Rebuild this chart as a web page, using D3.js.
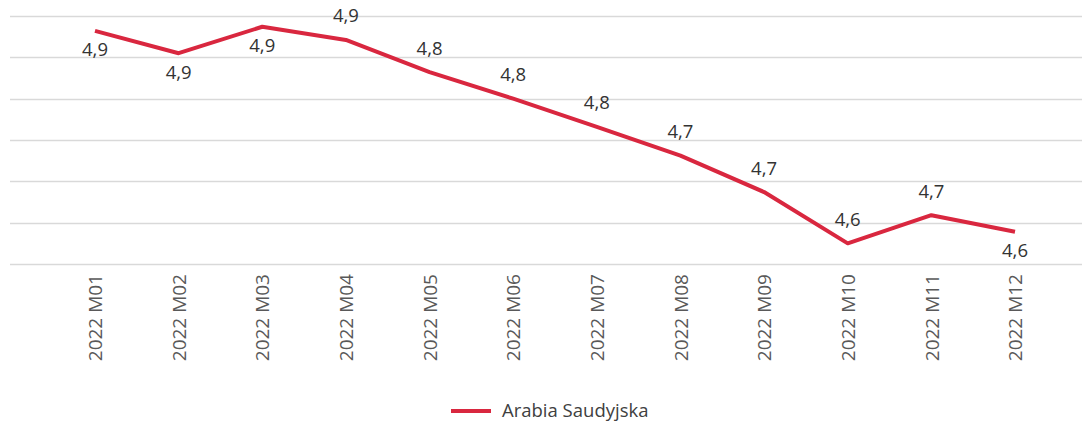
<!DOCTYPE html>
<html>
<head>
<meta charset="utf-8">
<script src="https://cdn.jsdelivr.net/npm/d3@7"></script>
<style>
  html, body { margin: 0; padding: 0; background: #ffffff; }
  svg { display: block; font-family: "Open Sans", "Noto Sans", sans-serif; }
</style>
</head>
<body>
<svg id="chart" width="1083" height="424"></svg>
<script>
// ---- data ----
const categories = ["2022 M01","2022 M02","2022 M03","2022 M04","2022 M05","2022 M06",
                    "2022 M07","2022 M08","2022 M09","2022 M10","2022 M11","2022 M12"];
const seriesName = "Arabia Saudyjska";
const values = [4.882, 4.855, 4.887, 4.871, 4.832, 4.800, 4.766, 4.731, 4.687, 4.625, 4.659, 4.639];
const labelSide = ["below","below","below","above","above","above","above","above","above","above","above","below"];
const gridTicks = [4.60, 4.65, 4.70, 4.75, 4.80, 4.85, 4.90];

// ---- layout ----
const svg = d3.select("#chart");
const color = "#d9273f";
const gridLeft = 10, gridRight = 1082;

const x = d3.scalePoint().domain(categories).range([95, 1015]);
const y = d3.scaleLinear().domain([4.60, 4.90]).range([264, 16]);

// gridlines
svg.append("g").selectAll("line").data(gridTicks).join("line")
  .attr("x1", gridLeft).attr("x2", gridRight)
  .attr("y1", d => Math.round(y(d)) + 0.5).attr("y2", d => Math.round(y(d)) + 0.5)
  .attr("stroke", "#d9d9d9").attr("stroke-width", 1.5);

// x axis labels
const xAxis = d3.axisBottom(x).tickSize(0).tickPadding(0);
const gx = svg.append("g").attr("transform", `translate(0,${y(4.60)})`).call(xAxis);
gx.select(".domain").remove();
gx.selectAll("text")
  .attr("transform", "rotate(-90)")
  .attr("x", -10).attr("y", 0).attr("dy", "0.35em")
  .style("text-anchor", "end")
  .attr("fill", "#595959")
  .style("font-size", "19px")
  .style("font-family", "\"Open Sans\", sans-serif");

// line
const line = d3.line().x((d, i) => x(categories[i])).y(d => y(d));
svg.append("path").datum(values)
  .attr("d", line).attr("fill", "none")
  .attr("stroke", color).attr("stroke-width", 4)
  .attr("stroke-linejoin", "round").attr("stroke-linecap", "butt");

// data labels
const fmt = v => d3.format(".1f")(v).replace(".", ",");
svg.append("g").selectAll("text").data(values).join("text")
  .attr("x", (d, i) => x(categories[i]))
  .attr("y", (d, i) => y(d) + (labelSide[i] === "above" ? -24 : 19))
  .attr("dy", "0.35em")
  .attr("text-anchor", "middle")
  .attr("fill", "#333333")
  .style("font-size", "18.5px")
  .text(d => fmt(d));

// legend
const lg = svg.append("g").attr("transform", "translate(451,411)");
lg.append("line").attr("x1", 0).attr("x2", 40).attr("y1", 0).attr("y2", 0)
  .attr("stroke", color).attr("stroke-width", 4);
lg.append("text").attr("x", 51).attr("y", 0).attr("dy", "0.35em")
  .attr("fill", "#404040").style("font-size", "18.5px").text(seriesName);
</script>
</body>
</html>
